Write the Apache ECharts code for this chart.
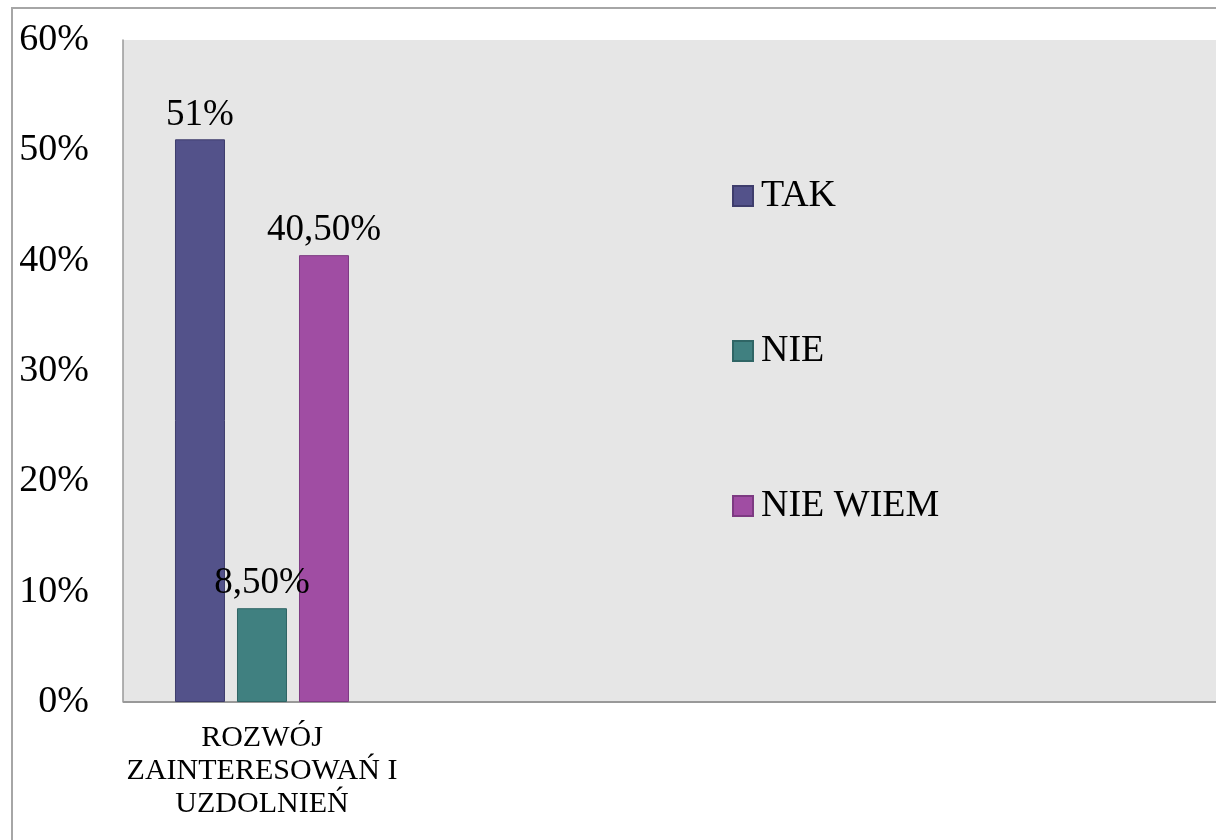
<!DOCTYPE html>
<html>
<head>
<meta charset="utf-8">
<script src="https://cdn.jsdelivr.net/npm/echarts@6/dist/echarts.min.js"></script>
<style>html,body{margin:0;padding:0;background:#fff;}#c{width:1216px;height:840px;}</style>
</head>
<body>
<div id="c"></div>
<script>
const categories = ['ROZWÓJ\nZAINTERESOWAŃ I\nUZDOLNIEŃ'];
const seriesNames = ['TAK', 'NIE', 'NIE WIEM'];
const takValues = [51];
const nieValues = [8.5];
const nieWiemValues = [40.5];
const yTicks = [0, 10, 20, 30, 40, 50, 60];

const colors = ['#53528a', '#408080', '#a04da3'];
const borders = ['#3e3d6c', '#2f6565', '#7d3a82'];
const serif = '"Liberation Serif", "Times New Roman", serif';

function fmt(v) {
  return (Number.isInteger(v) ? String(v) : v.toFixed(2).replace('.', ',')) + '%';
}

const plotLeft = 123, gridLeft = 125.7;
const chart = echarts.init(document.getElementById('c'));
const valuesList = [takValues, nieValues, nieWiemValues];
chart.setOption({
  animation: false,
  backgroundColor: '#ffffff',
  graphic: [
    { type: 'rect', z: -10, silent: true,
      shape: { x: 12, y: 8, width: 1400, height: 1000 },
      style: { fill: 'none', stroke: '#a6a6a6', lineWidth: 2 } },
    { type: 'rect', z: -9, silent: true,
      shape: { x: plotLeft, y: 40, width: 1216 - plotLeft, height: 662 },
      style: { fill: '#e6e6e6' } },
    { type: 'line', z: 1, silent: true,
      shape: { x1: plotLeft, y1: 702, x2: gridLeft + 1, y2: 702 },
      style: { stroke: '#999', lineWidth: 2 } }
  ],
  grid: { left: gridLeft, top: 40, right: 0, bottom: 138 },
  legend: {
    orient: 'vertical', left: 732, top: 176, padding: 0,
    itemWidth: 20, itemHeight: 20, itemGap: 115,
    icon: 'rect',
    textStyle: { fontFamily: serif, fontSize: 38, color: '#000', lineHeight: 40, padding: [0, 0, 0, 3] },
    data: seriesNames
  },
  xAxis: {
    type: 'category',
    data: categories.concat(['', '', '']),
    axisTick: { show: false },
    axisLine: { lineStyle: { color: '#999', width: 2 } },
    axisLabel: { interval: 0, fontFamily: serif, fontSize: 30, lineHeight: 33, color: '#000', margin: 20 }
  },
  yAxis: {
    type: 'value', min: yTicks[0], max: yTicks[yTicks.length - 1], interval: 10,
    offset: gridLeft - plotLeft,
    splitLine: { show: false },
    axisTick: { show: false },
    axisLine: { show: true, lineStyle: { color: '#999', width: 1.5 } },
    axisLabel: { formatter: '{value}%', fontFamily: serif, fontSize: 38, color: '#000', margin: 34 }
  },
  series: seriesNames.map((name, i) => ({
    name: name,
    type: 'bar',
    barWidth: 50,
    barGap: '24%',
    data: valuesList[i],
    itemStyle: { color: colors[i], borderColor: borders[i], borderWidth: 1 },
    label: {
      show: true, position: 'top', distance: 6,
      fontFamily: serif, fontSize: 37, color: '#000',
      formatter: p => fmt(p.value)
    }
  }))
});
</script>
</body>
</html>
